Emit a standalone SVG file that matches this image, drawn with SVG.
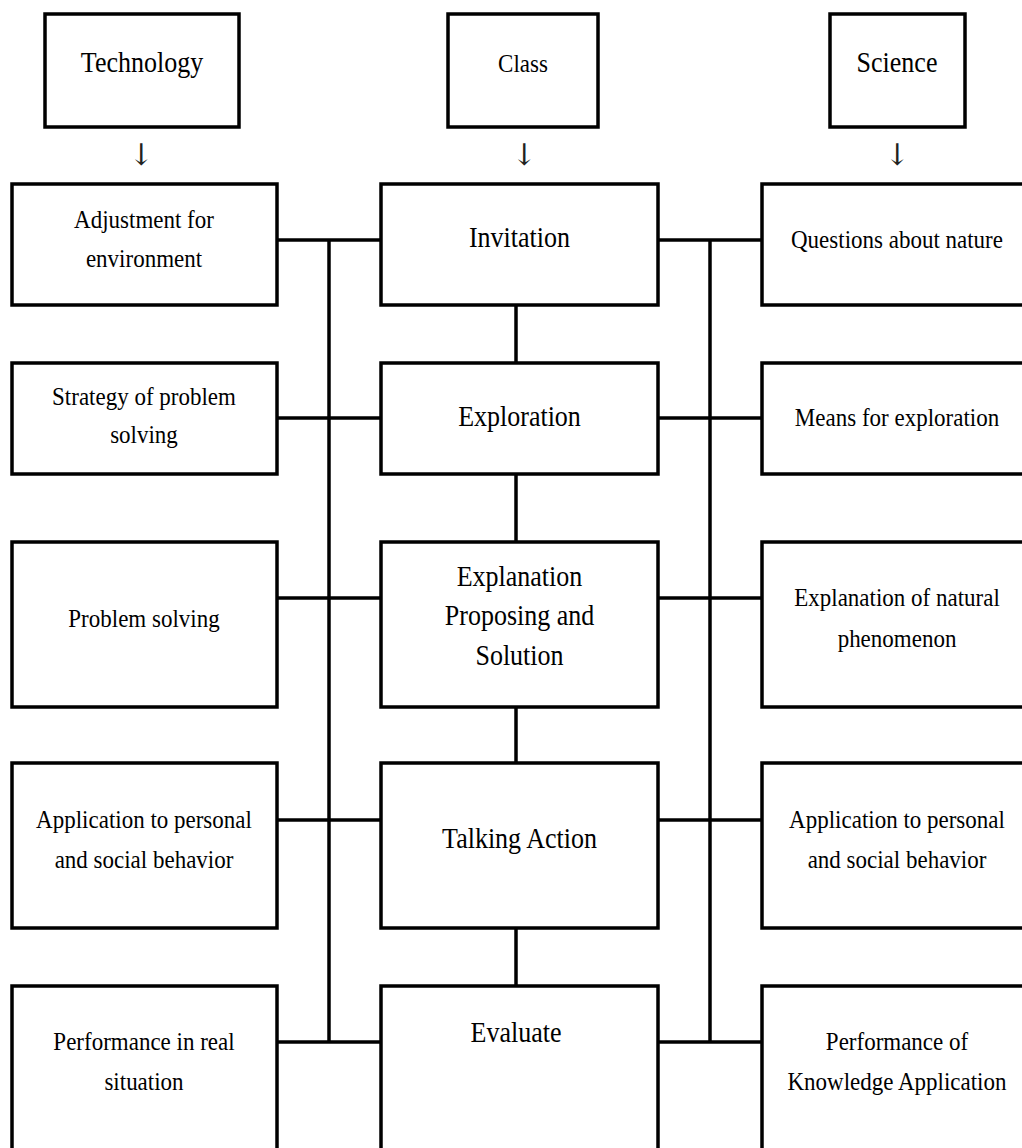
<svg xmlns="http://www.w3.org/2000/svg" width="1022" height="1148" viewBox="0 0 1022 1148">
<style>
rect{fill:#fff;stroke:#000;stroke-width:3.5}
line{stroke:#000;stroke-width:3.5}
text{font-family:"Liberation Serif","Times New Roman",serif;fill:#000;text-anchor:middle}
.s{font-size:23px}
.m{font-size:26px}
.a{font-family:"DejaVu Serif","DejaVu Sans",serif;font-size:30px;fill:#222}
</style>
<g id="connectors">
<line x1="329" y1="240" x2="329" y2="1042"/>
<line x1="710" y1="240" x2="710" y2="1042"/>
<line x1="277" y1="240" x2="381" y2="240"/>
<line x1="277" y1="418" x2="381" y2="418"/>
<line x1="277" y1="598" x2="381" y2="598"/>
<line x1="277" y1="820" x2="381" y2="820"/>
<line x1="277" y1="1042" x2="381" y2="1042"/>
<line x1="658" y1="240" x2="762" y2="240"/>
<line x1="658" y1="418" x2="762" y2="418"/>
<line x1="658" y1="598" x2="762" y2="598"/>
<line x1="658" y1="820" x2="762" y2="820"/>
<line x1="658" y1="1042" x2="762" y2="1042"/>
<line x1="516" y1="305" x2="516" y2="363"/>
<line x1="516" y1="474" x2="516" y2="542"/>
<line x1="516" y1="707" x2="516" y2="763"/>
<line x1="516" y1="928" x2="516" y2="986"/>
<text class="a" x="141" y="165">↓</text>
<text class="a" x="524" y="165">↓</text>
<text class="a" x="897" y="165">↓</text>
</g>
<g id="technology"><rect x="45" y="14" width="194" height="113"/><text class="m" transform="translate(142 72) scale(1 1.1)">Technology</text></g>
<g id="class"><rect x="448" y="14" width="150" height="113"/><text class="s" transform="translate(523 72) scale(1 1.12)">Class</text></g>
<g id="science"><rect x="830" y="14" width="135" height="113"/><text class="m" transform="translate(897 72) scale(1 1.1)">Science</text></g>

<g id="adjustment"><rect x="12" y="184" width="265" height="121"/><text class="s" transform="translate(144 228) scale(1 1.12)">Adjustment for</text><text class="s" transform="translate(144 267) scale(1 1.12)">environment</text></g>
<g id="strategy"><rect x="12" y="363" width="265" height="111"/><text class="s" transform="translate(144 405) scale(1 1.12)">Strategy of problem</text><text class="s" transform="translate(144 443) scale(1 1.12)">solving</text></g>
<g id="problem-solving"><rect x="12" y="542" width="265" height="165"/><text class="s" transform="translate(144 627) scale(1 1.12)">Problem solving</text></g>
<g id="application-left"><rect x="12" y="763" width="265" height="165"/><text class="s" transform="translate(144 828) scale(1 1.12)">Application to personal</text><text class="s" transform="translate(144 868) scale(1 1.12)">and social behavior</text></g>
<g id="performance-real"><rect x="12" y="986" width="265" height="180"/><text class="s" transform="translate(144 1050) scale(1 1.12)">Performance in real</text><text class="s" transform="translate(144 1090) scale(1 1.12)">situation</text></g>

<g id="invitation"><rect x="381" y="184" width="277" height="121"/><text class="m" transform="translate(519.5 247) scale(1 1.1)">Invitation</text></g>
<g id="exploration"><rect x="381" y="363" width="277" height="111"/><text class="m" transform="translate(519.5 426) scale(1 1.1)">Exploration</text></g>
<g id="explanation"><rect x="381" y="542" width="277" height="165"/><text class="m" transform="translate(519.5 586) scale(1 1.1)">Explanation</text><text class="m" transform="translate(519.5 625) scale(1 1.1)">Proposing and</text><text class="m" transform="translate(519.5 665) scale(1 1.1)">Solution</text></g>
<g id="talking-action"><rect x="381" y="763" width="277" height="165"/><text class="m" transform="translate(519.5 848) scale(1 1.1)">Talking Action</text></g>
<g id="evaluate"><rect x="381" y="986" width="277" height="180"/><text class="m" transform="translate(516 1042) scale(1 1.1)">Evaluate</text></g>

<g id="questions"><rect x="762" y="184" width="270" height="121"/><text class="s" transform="translate(897 248) scale(1 1.12)">Questions about nature</text></g>
<g id="means"><rect x="762" y="363" width="270" height="111"/><text class="s" transform="translate(897 426) scale(1 1.12)">Means for exploration</text></g>
<g id="explanation-natural"><rect x="762" y="542" width="270" height="165"/><text class="s" transform="translate(897 606) scale(1 1.12)">Explanation of natural</text><text class="s" transform="translate(897 647) scale(1 1.12)">phenomenon</text></g>
<g id="application-right"><rect x="762" y="763" width="270" height="165"/><text class="s" transform="translate(897 828) scale(1 1.12)">Application to personal</text><text class="s" transform="translate(897 868) scale(1 1.12)">and social behavior</text></g>
<g id="performance-knowledge"><rect x="762" y="986" width="270" height="180"/><text class="s" transform="translate(897 1050) scale(1 1.12)">Performance of</text><text class="s" transform="translate(897 1090) scale(1 1.12)">Knowledge Application</text></g>
</svg>
